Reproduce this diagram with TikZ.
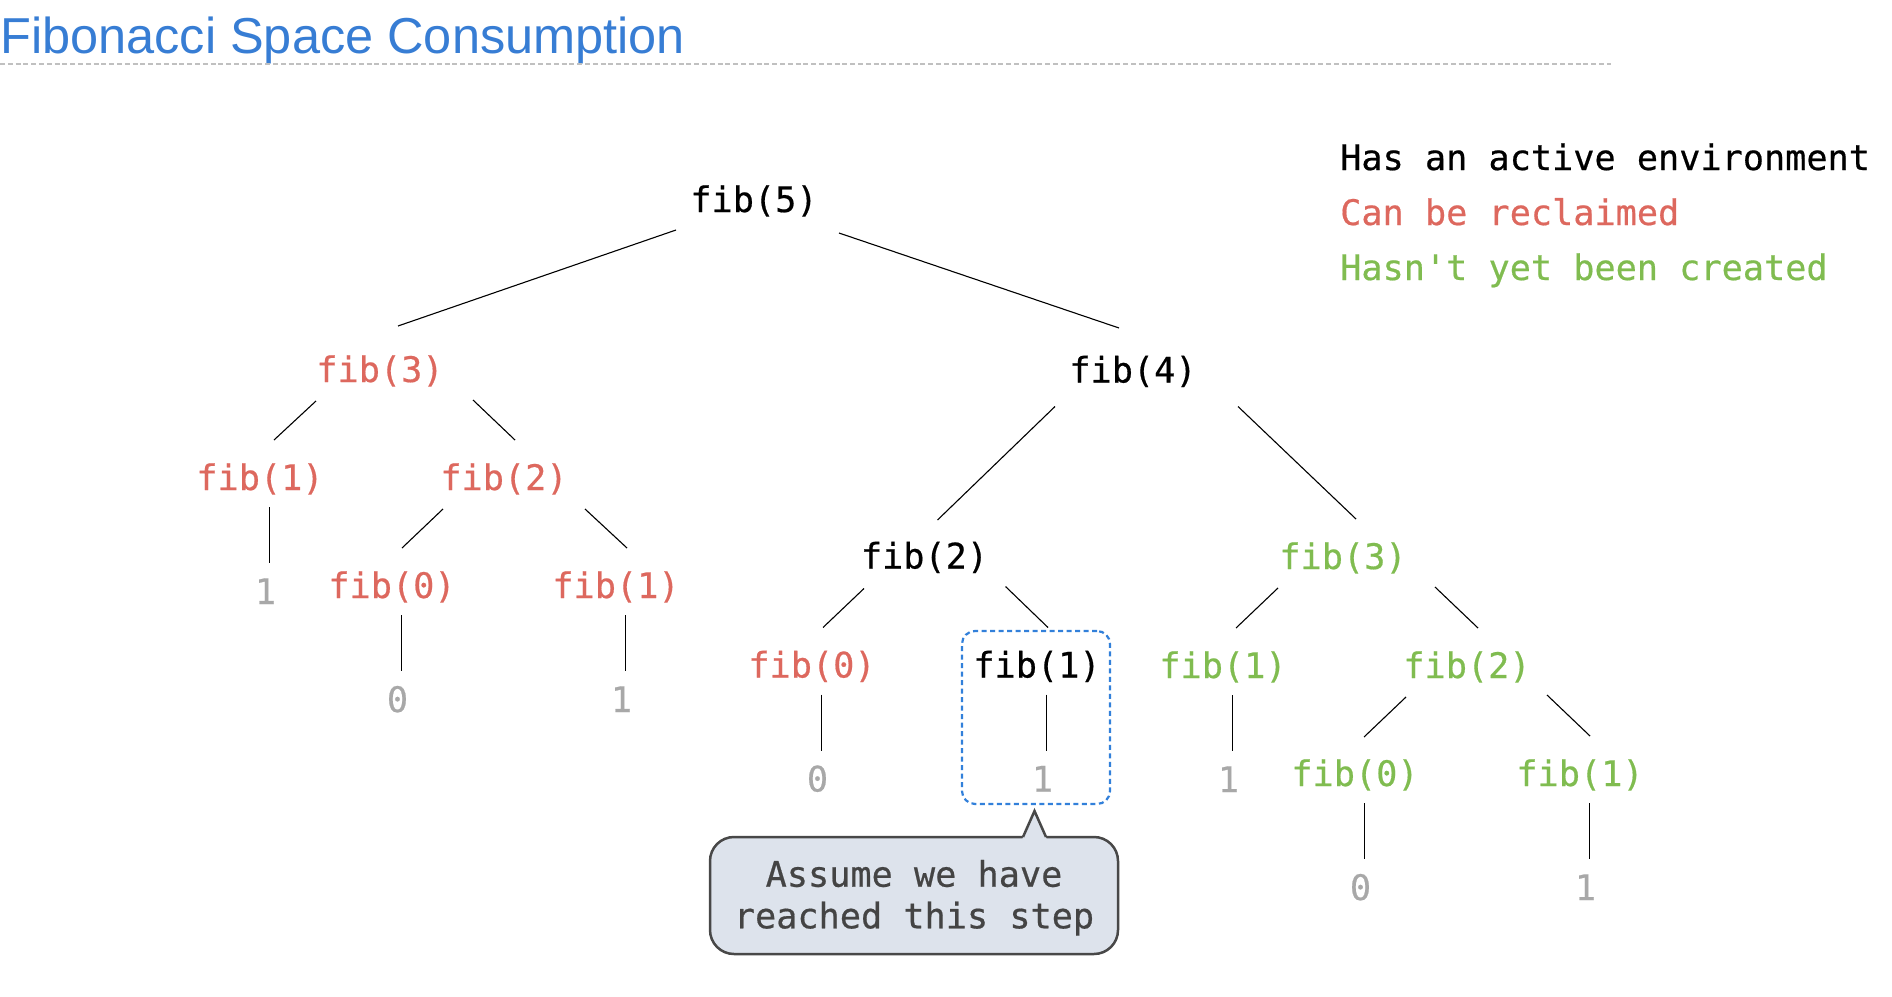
\documentclass[tikz,border=0pt]{standalone}
\usepackage{fontspec}
\usetikzlibrary{calc}
\newfontfamily\titlefont{Liberation Sans}
\newfontfamily\codefont[FakeBold=0.5]{DejaVu Sans Mono}

\definecolor{titleblue}{RGB}{55,125,212}
\definecolor{reclaim}{RGB}{221,104,94}
\definecolor{pending}{RGB}{128,188,80}
\definecolor{result}{RGB}{168,168,168}
\definecolor{focusblue}{RGB}{50,128,218}
\definecolor{notefill}{RGB}{221,227,236}
\definecolor{noteline}{RGB}{72,72,72}
\definecolor{notetext}{RGB}{68,68,68}
\definecolor{rulegray}{RGB}{192,192,192}

\tikzset{
  call/.style={font=\codefont\fontsize{35.2}{42}\selectfont, anchor=base, inner sep=0pt},
  active/.style={call, text=black},
  freed/.style={call, text=reclaim},
  future/.style={call, text=pending},
  value/.style={call, text=result},
  legend/.style={call, anchor=base west},
  notetxt/.style={call, text=notetext},
  edge/.style={draw=black, line width=1.1pt},
  focusbox/.style={draw=focusblue, line width=2.2pt, dash pattern=on 5pt off 3.5pt,
    rounded corners=13pt, minimum width=148pt, minimum height=173pt, inner sep=0pt},
  notebox/.style={fill=notefill, draw=noteline, line width=2.5pt, rounded corners=24pt},
}

% edge between two calls: parent anchor offset, child anchor offset
\newcommand\calledge[4]{\draw[edge] ($(#1.base)+(#2)$) -- ($(#3.base)+(#4)$);}
% vertical edge from a call down to its returned value
\newcommand\valueedge[2]{\draw[edge] ($(#1.base)+(9.5,17)$) -- ($(#2.base)+(4,-41)$);}

\begin{document}
\begin{tikzpicture}[x=1pt, y=-1pt]
  \useasboundingbox (0,0) rectangle (1892,996);

  % heading
  \node[font=\titlefont\fontsize{50.5}{60}\selectfont, text=titleblue, anchor=base west, inner sep=0pt]
    (title) at (0,53) {Fibonacci Space Consumption};
  \draw[rulegray, line width=1.3pt, dash pattern=on 5pt off 2.8pt] (0,64) -- (1611,64);

  % legend
  \node[legend, text=black] (key1) at (1340,170) {Has an active environment};
  \node[legend, text=reclaim] (key2) at (1340,225) {Can be reclaimed};
  \node[legend, text=pending] (key3) at (1340,280) {Hasn't yet been created};

  % call tree
  \node[active] (f5) at (754,212) {fib(5)};
  \node[freed]  (f3a) at (380,382) {fib(3)};
  \node[active] (f4) at (1133,382.5) {fib(4)};

  \node[freed] (f1a) at (260,490) {fib(1)};
  \node[freed] (f2a) at (504,490) {fib(2)};
  \node[value] (v1a) at (265.5,604) {1};
  \node[freed] (f0a) at (392,598) {fib(0)};
  \node[freed] (f1b) at (616,598) {fib(1)};
  \node[value] (v0a) at (397.5,712) {0};
  \node[value] (v1b) at (621.5,712) {1};

  \node[active] (f2b) at (924.5,568.5) {fib(2)};
  \node[future] (f3b) at (1343,569) {fib(3)};
  \node[freed]  (f0b) at (812,677.5) {fib(0)};
  \node[active] (f1c) at (1037,677.5) {fib(1)};
  \node[value]  (v0b) at (817.5,791.5) {0};
  \node[value]  (v1c) at (1042.5,791.5) {1};

  \node[future] (f1d) at (1223,678) {fib(1)};
  \node[future] (f2c) at (1467,678) {fib(2)};
  \node[value]  (v1d) at (1228.5,792) {1};
  \node[future] (f0c) at (1355,786) {fib(0)};
  \node[future] (f1e) at (1580,786) {fib(1)};
  \node[value]  (v0c) at (1360.5,900) {0};
  \node[value]  (v1e) at (1585.5,900) {1};

  \calledge{f5}{-78,18}{f3a}{18,-56}
  \calledge{f5}{85,21}{f4}{-14,-54.5}
  \calledge{f3a}{-64,19}{f1a}{14,-50}
  \calledge{f3a}{93,18}{f2a}{11,-50}
  \calledge{f2a}{-61,19}{f0a}{10,-50}
  \calledge{f2a}{81,19}{f1b}{11,-50}
  \calledge{f4}{-78,24}{f2b}{13,-48.5}
  \calledge{f4}{105,24}{f3b}{13,-50}
  \calledge{f2b}{-60.5,20}{f0b}{11,-50}
  \calledge{f2b}{81,18}{f1c}{11,-50}
  \calledge{f3b}{-65,19}{f1d}{13,-50}
  \calledge{f3b}{92,18}{f2c}{11,-50}
  \calledge{f2c}{-61,19}{f0c}{9,-49}
  \calledge{f2c}{80,17}{f1e}{10,-50}

  \valueedge{f1a}{v1a}
  \valueedge{f0a}{v0a}
  \valueedge{f1b}{v1b}
  \valueedge{f0b}{v0b}
  \valueedge{f1c}{v1c}
  \valueedge{f1d}{v1d}
  \valueedge{f0c}{v0c}
  \valueedge{f1e}{v1e}

  % current step highlight
  \node[focusbox] (focus) at (1036,717.5) {};

  % callout
  \draw[notebox] (710,837) rectangle (1118,954);
  \fill[notefill] (1022,839.6) -- (1034.5,811) -- (1047,839.6) -- cycle;
  \draw[noteline, line width=2.5pt] (1023,837) -- (1034.5,811) -- (1046,837);
  \node[notetxt] (note1) at (914,886.7) {Assume we have};
  \node[notetxt] (note2) at (914,928.3) {reached this step};
\end{tikzpicture}
\end{document}
